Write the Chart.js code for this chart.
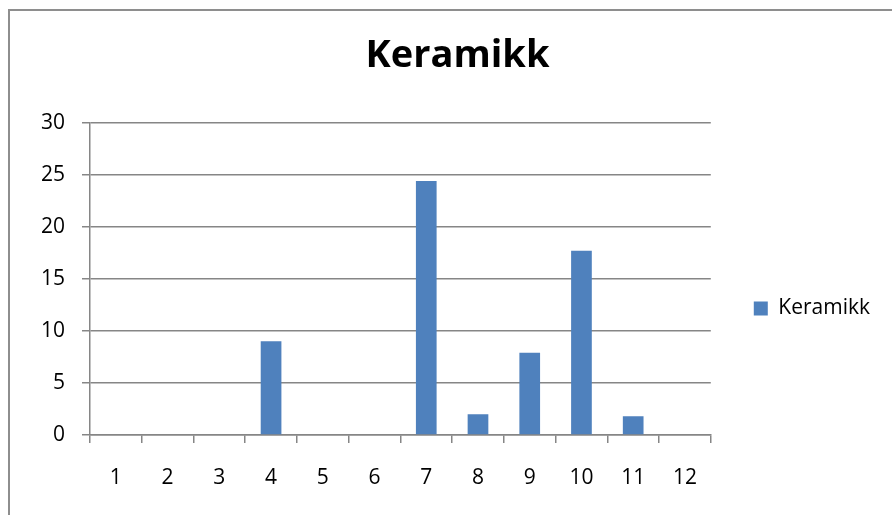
<!DOCTYPE html>
<html lang="en">
<head>
    <meta charset="UTF-8">
    <title>Keramikk</title>
    <script src="https://cdn.jsdelivr.net/npm/chart.js"></script>
    <style>
        body {
            margin: 0;
            background: #fff;
            overflow: hidden;
        }
        .frame {
            position: absolute;
            left: 8px;
            top: 9px;
            width: 1000px;
            height: 700px;
            border: 2px solid #8e8e8e;
        }
        /* canvas is a bit wider than the window, the original chart is cut off on the right */
        .chart-container {
            position: absolute;
            left: 0;
            top: 0;
            width: 914px;
            height: 515px;
        }
    </style>
</head>
<body>
    <div class="frame"></div>
    <div class="chart-container"><canvas id="chart1" width="914" height="515"></canvas></div>

    <script>
        const categories = ['1', '2', '3', '4', '5', '6', '7', '8', '9', '10', '11', '12'];
        const keramikk = [0, 0, 0, 9, 0, 0, 24.4, 2, 7.9, 17.7, 1.8, 0];
        const yMin = 0;
        const yMax = 30;
        const yStep = 5;

        const fontFamily = '"Open Sans", "Noto Sans", sans-serif';
        const axisColor = '#868686';
        const labelFont = { family: fontFamily, size: 21 };

        const ctx = document.getElementById('chart1').getContext('2d');
        new Chart(ctx, {
            type: 'bar',
            data: {
                labels: categories,
                datasets: [{
                    label: 'Keramikk',
                    data: keramikk,
                    backgroundColor: '#4F81BD',
                    borderWidth: 0,
                    barPercentage: 0.4,
                    categoryPercentage: 1.0
                }]
            },
            options: {
                responsive: false,
                animation: false,
                layout: {
                    padding: { left: 35, right: 34, top: 0, bottom: 0 }
                },
                plugins: {
                    title: {
                        display: true,
                        text: 'Keramikk',
                        color: '#000',
                        font: { family: fontFamily, size: 38, weight: 'bold' },
                        padding: { top: 33, bottom: 44 }
                    },
                    legend: {
                        position: 'right',
                        align: 'center',
                        labels: {
                            boxWidth: 14,
                            boxHeight: 14,
                            padding: 43,
                            color: '#000',
                            font: labelFont
                        },
                        // empty title only to push the single item down
                        title: {
                            display: true,
                            text: '',
                            font: { size: 10 },
                            padding: { top: 90, bottom: 0 }
                        }
                    },
                    tooltip: { enabled: false }
                },
                scales: {
                    x: {
                        grid: {
                            offset: true,
                            drawOnChartArea: false,
                            drawTicks: true,
                            tickLength: 8,
                            color: axisColor,
                            lineWidth: 1.5
                        },
                        border: { color: axisColor, width: 1.5 },
                        ticks: {
                            padding: 22,
                            color: '#000',
                            font: labelFont,
                            maxRotation: 0
                        },
                        afterFit: scale => { scale.height = 80; }
                    },
                    y: {
                        min: yMin,
                        max: yMax,
                        ticks: {
                            stepSize: yStep,
                            padding: 17,
                            color: '#000',
                            font: labelFont
                        },
                        grid: {
                            color: axisColor,
                            lineWidth: 1.5,
                            tickLength: 8
                        },
                        border: { color: axisColor, width: 1.5 },
                        afterFit: scale => { scale.width = 55; }
                    }
                }
            }
        });
    </script>
</body>
</html>
